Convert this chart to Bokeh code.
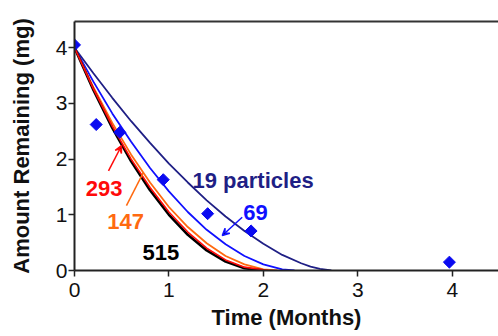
import numpy as np
from bokeh.plotting import figure
from bokeh.models import Label, Arrow, VeeHead, Range1d, FixedTicker, LinearAxis
from bokeh.embed import file_html
from bokeh.resources import INLINE

# Measured data (diamonds)
obs_time = [0.0, 0.23, 0.48, 0.94, 1.41, 1.87, 3.97]
obs_amount = [4.05, 2.62, 2.48, 1.63, 1.02, 0.71, 0.15]

# Model curves (time in months, amount in mg)
t_19 = [0.0, 0.2, 0.4, 0.6, 0.8, 1.0, 1.2, 1.4, 1.6, 1.8, 2.0, 2.2, 2.4, 2.5, 2.6, 2.72]
m_19 = [4.0, 3.54, 3.10, 2.68, 2.29, 1.92, 1.58, 1.26, 0.97, 0.71, 0.48, 0.28, 0.13, 0.07, 0.03, 0.0]

t_69 = [0.0, 0.2, 0.4, 0.6, 0.8, 1.0, 1.2, 1.4, 1.6, 1.8, 2.0, 2.2, 2.33]
m_69 = [4.0, 3.39, 2.82, 2.31, 1.84, 1.42, 1.05, 0.73, 0.47, 0.26, 0.11, 0.02, 0.0]

t_147 = [0.0, 0.2, 0.4, 0.6, 0.8, 1.0, 1.2, 1.4, 1.6, 1.8, 2.0, 2.15]
m_147 = [4.0, 3.29, 2.65, 2.08, 1.58, 1.14, 0.78, 0.49, 0.26, 0.11, 0.02, 0.0]

t_293 = [0.0, 0.2, 0.4, 0.6, 0.8, 1.0, 1.2, 1.4, 1.6, 1.8, 2.05]
m_293 = [4.0, 3.26, 2.59, 2.00, 1.49, 1.05, 0.69, 0.40, 0.19, 0.06, 0.0]

t_515 = [0.0, 0.2, 0.4, 0.6, 0.8, 1.0, 1.2, 1.4, 1.6, 1.8, 2.0]
m_515 = [4.0, 3.24, 2.56, 1.96, 1.44, 1.00, 0.64, 0.36, 0.16, 0.04, 0.0]

x_ticks = [0, 1, 2, 3, 4]
y_ticks = [0, 1, 2, 3, 4]

FONT = "Liberation Sans"
NAVY = "#1f1f85"
BLUE = "#1010ff"
ORANGE = "#ff6a10"
RED = "#ff0a0a"
BLACK = "#000000"

p = figure(width=498, height=336, output_backend="svg", toolbar_location=None,
           x_range=Range1d(0, 4.49), y_range=Range1d(0, 4.47),
           min_border_left=74, min_border_right=0, min_border_top=21, min_border_bottom=66)
p.background_fill_color = "white"
p.border_fill_color = "white"
p.outline_line_color = None
p.xgrid.visible = False
p.ygrid.visible = False

for ax in (p.xaxis[0], p.yaxis[0]):
    ax.axis_line_color = "#222222"
    ax.axis_line_width = 2
    ax.major_tick_line_color = "#222222"
    ax.major_tick_line_width = 1.5
    ax.major_tick_out = 6
    ax.major_tick_in = 0
    ax.minor_tick_line_color = None
    ax.major_label_text_font = FONT
    ax.major_label_text_font_size = "21px"
    ax.major_label_text_color = "#111111"
    ax.axis_label_text_font = FONT
    ax.axis_label_text_font_size = "22px"
    ax.axis_label_text_font_style = "bold"
    ax.axis_label_text_color = "#111111"

p.xaxis.ticker = FixedTicker(ticks=x_ticks)
p.yaxis.ticker = FixedTicker(ticks=y_ticks)
p.xaxis.axis_label = "Time (Months)"
p.yaxis.axis_label = "Amount Remaining (mg)"
p.xaxis.major_label_standoff = 6
p.yaxis.major_label_standoff = 1
p.xaxis.axis_label_standoff = 5
p.yaxis.axis_label_standoff = 19

# top frame line (the right edge of the frame lies outside the picture)
top_axis = LinearAxis(axis_line_color="#333333", axis_line_width=2,
                      major_tick_line_color=None, minor_tick_line_color=None,
                      major_label_text_font_size="0px", ticker=FixedTicker(ticks=[]))
p.add_layout(top_axis, "above")

p.line(t_19, m_19, line_color=NAVY, line_width=1.8)
p.line(t_69, m_69, line_color=BLUE, line_width=1.8)
p.line(t_147, m_147, line_color=ORANGE, line_width=1.8)
p.line(t_515, m_515, line_color=BLACK, line_width=2.6)
p.line(t_293, m_293, line_color=RED, line_width=1.6)

p.scatter(obs_time, obs_amount, marker="square", angle=np.pi / 4, size=8.5,
          fill_color="#0a0af0", line_color="#0a0af0")

def add_label(x, y, text, color):
    p.add_layout(Label(x=x, y=y, text=text, text_font=FONT, text_font_size="22px",
                       text_font_style="bold", text_color=color,
                       text_baseline="alphabetic", text_align="left"))

add_label(1.25, 1.61, "19 particles", NAVY)
add_label(1.787, 1.046, "69", BLUE)
add_label(0.12, 1.466, "293", RED)
add_label(0.346, 0.885, "147", ORANGE)
add_label(0.72, 0.33, "515", BLACK)

p.add_layout(Arrow(x_start=0.36, y_start=1.79, x_end=0.498, y_end=2.24,
                   line_color=RED, line_width=1.5,
                   end=VeeHead(size=7, line_color=RED, line_width=1.5)))
p.add_layout(Arrow(x_start=0.55, y_start=1.165, x_end=0.73, y_end=1.76,
                   line_color=ORANGE, line_width=1.5, end=None))
p.add_layout(Arrow(x_start=1.776, y_start=0.956, x_end=1.565, y_end=0.628,
                   line_color=BLUE, line_width=1.5,
                   end=VeeHead(size=7, line_color=BLUE, line_width=1.5)))

open("out.html", "w").write(file_html(p, INLINE))
